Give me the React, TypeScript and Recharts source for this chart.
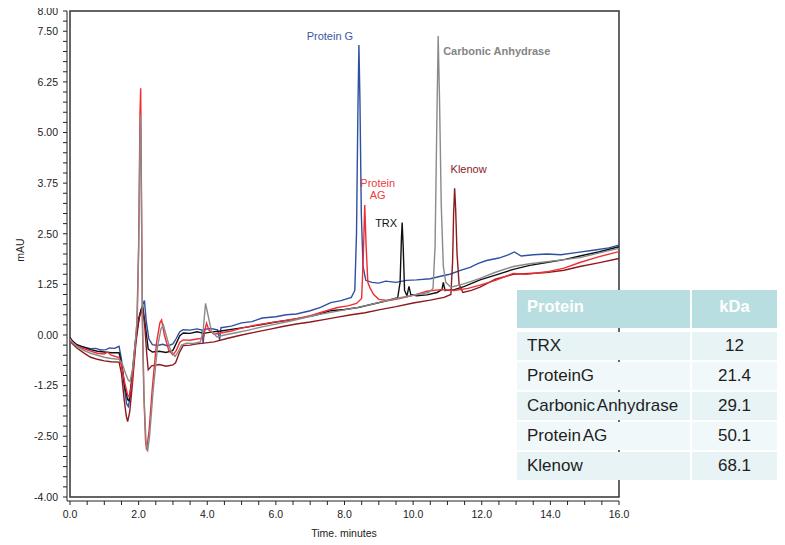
import React from 'react';
import { LineChart, Line, XAxis, YAxis, ReferenceArea, ReferenceDot } from 'recharts';

const FONT = '"Liberation Sans", Arial, Helvetica, sans-serif';

// chromatogram traces: [time (min), absorbance (mAU)]
const proteinG: [number, number][] = [
  [0, -0.05], [0.05, -0.13], [0.15, -0.22], [0.3, -0.28], [0.45, -0.31], [0.6, -0.34], [0.75, -0.33], [0.9, -0.37],
  [1.05, -0.36], [1.15, -0.32], [1.3, -0.33], [1.43, -0.28], [1.5, -0.6], [1.58, -1.25], [1.65, -1.7], [1.7, -1.77],
  [1.76, -1.5], [1.85, -0.7], [1.95, 0.1], [2.05, 0.55], [2.12, 0.75], [2.17, 0.85], [2.22, 0.35], [2.3, -0.1],
  [2.4, -0.24], [2.55, -0.26], [2.7, -0.23], [2.85, -0.27], [3.0, -0.22], [3.1, -0.08], [3.2, 0.08], [3.3, 0.13],
  [3.5, 0.12], [3.7, 0.15], [3.85, 0.12], [3.88, -0.2], [3.92, 0.14], [4.1, 0.16], [4.3, 0.13], [4.36, -0.12],
  [4.4, 0.18], [4.7, 0.22], [5.0, 0.3], [5.3, 0.33], [5.6, 0.42], [6.0, 0.45], [6.3, 0.5], [6.6, 0.52], [7.0, 0.6],
  [7.3, 0.68], [7.6, 0.8], [7.9, 0.85], [8.2, 0.93], [8.3, 1.1], [8.35, 2.5], [8.39, 5.5], [8.42, 7.16], [8.45, 5.8],
  [8.49, 3.0], [8.54, 1.7], [8.62, 1.35], [8.8, 1.3], [9.0, 1.28], [9.2, 1.33], [9.5, 1.3], [9.8, 1.35], [10.1, 1.36],
  [10.5, 1.39], [10.8, 1.45], [11.07, 1.5], [11.4, 1.6], [11.66, 1.67], [11.9, 1.77], [12.14, 1.84], [12.5, 1.9],
  [12.75, 1.97], [12.95, 2.05], [13.15, 1.95], [13.5, 1.98], [13.9, 2.0], [14.3, 1.98], [14.8, 2.04], [15.3, 2.1],
  [15.7, 2.15], [16.0, 2.22],
];

const proteinAG: [number, number][] = [
  [0, -0.08], [0.05, -0.16], [0.2, -0.27], [0.4, -0.34], [0.6, -0.4], [0.8, -0.45], [1.0, -0.47], [1.1, -0.42],
  [1.2, -0.5], [1.43, -0.56], [1.5, -0.75], [1.6, -1.2], [1.68, -1.48], [1.73, -1.52], [1.8, -1.2], [1.88, -0.5],
  [1.95, 0.3], [2.0, 2.2], [2.04, 5.5], [2.06, 6.09], [2.08, 3.8], [2.11, 0.3], [2.15, -1.4], [2.2, -2.6],
  [2.23, -2.84], [2.3, -2.4], [2.4, -1.3], [2.52, -0.2], [2.62, 0.3], [2.67, 0.37], [2.75, 0.0], [2.88, -0.38],
  [3.0, -0.49], [3.1, -0.38], [3.2, -0.18], [3.3, -0.12], [3.5, -0.13], [3.7, -0.1], [3.88, -0.08], [3.94, 0.15],
  [3.98, 0.29], [4.05, 0.12], [4.2, 0.02], [4.4, 0.05], [4.7, 0.1], [5.0, 0.17], [5.4, 0.24], [5.8, 0.3], [6.2, 0.35],
  [6.6, 0.4], [7.0, 0.48], [7.4, 0.58], [7.8, 0.68], [8.1, 0.72], [8.35, 0.78], [8.5, 0.9], [8.55, 2.0], [8.59, 3.21],
  [8.63, 2.2], [8.68, 1.3], [8.75, 1.15], [8.85, 1.0], [9.0, 0.88], [9.3, 0.85], [9.6, 0.9], [10.0, 0.98],
  [10.4, 1.08], [10.8, 1.12], [11.2, 1.1], [11.6, 1.15], [11.95, 1.23], [12.4, 1.35], [12.92, 1.52], [13.3, 1.5],
  [13.9, 1.56], [14.4, 1.65], [14.86, 1.79], [15.4, 1.93], [16.0, 2.06],
];

const trx: [number, number][] = [
  [0, -0.06], [0.05, -0.13], [0.2, -0.24], [0.4, -0.3], [0.6, -0.36], [0.8, -0.4], [1.0, -0.42], [1.2, -0.44],
  [1.43, -0.44], [1.5, -0.7], [1.6, -1.3], [1.68, -1.6], [1.72, -1.62], [1.8, -1.1], [1.9, -0.2], [2.0, 0.4],
  [2.08, 0.65], [2.12, 0.7], [2.2, 0.2], [2.28, -0.35], [2.4, -0.42], [2.6, -0.4], [2.8, -0.43], [3.0, -0.38],
  [3.1, -0.2], [3.2, -0.02], [3.3, 0.05], [3.5, 0.04], [3.7, 0.08], [3.9, 0.04], [4.1, 0.07], [4.4, 0.1], [4.8, 0.15],
  [5.2, 0.2], [5.6, 0.26], [6.0, 0.32], [6.4, 0.37], [6.8, 0.43], [7.2, 0.5], [7.6, 0.6], [8.0, 0.63], [8.4, 0.68],
  [8.8, 0.76], [9.2, 0.84], [9.55, 0.92], [9.62, 1.3], [9.66, 2.4], [9.68, 2.78], [9.71, 2.2], [9.75, 1.1],
  [9.82, 0.97], [9.88, 1.2], [9.93, 1.0], [10.1, 0.97], [10.4, 0.99], [10.7, 1.05], [10.84, 1.12], [10.88, 1.3],
  [10.93, 1.1], [11.2, 1.12], [11.5, 1.2], [11.95, 1.36], [12.4, 1.48], [12.92, 1.62], [13.4, 1.72], [13.89, 1.79],
  [14.4, 1.86], [14.86, 1.95], [15.4, 2.05], [16.0, 2.18],
];

const carbonicAnhydrase: [number, number][] = [
  [0, -0.1], [0.05, -0.17], [0.2, -0.28], [0.4, -0.38], [0.6, -0.45], [0.8, -0.5], [1.0, -0.55], [1.2, -0.58],
  [1.43, -0.6], [1.52, -0.7], [1.62, -0.95], [1.7, -1.12], [1.75, -1.15], [1.82, -0.85], [1.9, -0.2], [1.96, 0.4],
  [2.0, 2.0], [2.04, 4.8], [2.06, 5.43], [2.08, 3.5], [2.11, 0.5], [2.16, -1.6], [2.22, -2.7], [2.26, -2.88],
  [2.32, -2.5], [2.42, -1.4], [2.55, -0.3], [2.65, 0.15], [2.72, 0.25], [2.8, 0.0], [2.92, -0.35], [3.06, -0.53],
  [3.15, -0.42], [3.25, -0.25], [3.4, -0.2], [3.6, -0.21], [3.8, -0.17], [3.88, 0.1], [3.95, 0.78], [4.02, 0.5],
  [4.12, 0.1], [4.28, -0.05], [4.5, 0.0], [4.8, 0.05], [5.2, 0.12], [5.6, 0.2], [6.0, 0.27], [6.4, 0.34], [6.8, 0.42],
  [7.2, 0.5], [7.6, 0.56], [8.0, 0.62], [8.5, 0.7], [9.0, 0.8], [9.5, 0.9], [10.0, 0.98], [10.45, 1.05], [10.58, 1.15],
  [10.64, 2.2], [10.69, 5.2], [10.73, 7.38], [10.77, 5.8], [10.82, 3.2], [10.88, 1.7], [10.95, 1.3], [11.1, 1.18],
  [11.5, 1.27], [11.95, 1.4], [12.4, 1.55], [12.92, 1.69], [13.4, 1.76], [13.89, 1.81], [14.4, 1.86], [14.86, 1.91],
  [15.4, 2.02], [16.0, 2.14],
];

const klenow: [number, number][] = [
  [0, -0.1], [0.05, -0.2], [0.2, -0.32], [0.4, -0.44], [0.6, -0.55], [0.8, -0.6], [1.0, -0.64], [1.2, -0.66],
  [1.43, -0.67], [1.5, -0.95], [1.58, -1.6], [1.64, -2.0], [1.68, -2.14], [1.74, -1.9], [1.82, -1.2], [1.92, -0.2],
  [2.02, 0.45], [2.12, 0.63], [2.18, 0.2], [2.24, -0.5], [2.28, -0.86], [2.38, -0.76], [2.6, -0.73], [2.8, -0.77],
  [3.0, -0.74], [3.08, -0.68], [3.18, -0.45], [3.3, -0.26], [3.5, -0.25], [3.7, -0.22], [3.9, -0.2], [4.2, -0.17],
  [4.6, -0.08], [5.0, 0.0], [5.4, 0.07], [5.8, 0.14], [6.2, 0.21], [6.6, 0.27], [7.0, 0.32], [7.4, 0.38], [7.8, 0.44],
  [8.2, 0.5], [8.6, 0.55], [9.0, 0.62], [9.5, 0.7], [10.0, 0.79], [10.5, 0.86], [10.9, 0.93], [11.1, 1.0],
  [11.15, 1.8], [11.18, 3.0], [11.21, 3.62], [11.24, 3.1], [11.28, 2.0], [11.34, 1.25], [11.45, 1.05], [11.7, 1.1],
  [11.95, 1.18], [12.4, 1.38], [12.92, 1.5], [13.4, 1.52], [13.89, 1.54], [14.4, 1.6], [14.86, 1.69], [15.4, 1.78],
  [16.0, 1.89],
];

const xTicks = [0, 0.5, 1, 1.5, 2, 2.5, 3, 3.5, 4, 4.5, 5, 5.5, 6, 6.5, 7, 7.5, 8, 8.5, 9, 9.5, 10, 10.5, 11, 11.5,
  12, 12.5, 13, 13.5, 14, 14.5, 15, 15.5, 16];
const xLabelled = [0, 2, 4, 6, 8, 10, 12, 14, 16];

const yTicks = [-4, -3.75, -3.5, -3.25, -3, -2.75, -2.5, -2.25, -2, -1.75, -1.5, -1.25, -1, -0.75, -0.5, -0.25, 0,
  0.25, 0.5, 0.75, 1, 1.25, 1.5, 1.75, 2, 2.25, 2.5, 2.75, 3, 3.25, 3.5, 3.75, 4, 4.25, 4.5, 4.75, 5, 5.25, 5.5, 5.75,
  6, 6.25, 6.5, 6.75, 7, 7.25, 7.5, 7.75, 8];
const yLabelled = [-4, -2.5, -1.25, 0, 1.25, 2.5, 3.75, 5, 6.25, 7.5, 8];

const proteinNames = ['TRX', 'ProteinG', 'Carbonic Anhydrase', 'Protein AG', 'Klenow'];
const proteinKDa = ['12', '21.4', '29.1', '50.1', '68.1'];

const toPoints = (arr: [number, number][]) => arr.map(([t, v]) => ({ t, v }));

const series = [
  { name: 'Protein G', data: proteinG, color: '#2f4fa2' },
  { name: 'TRX', data: trx, color: '#111111' },
  { name: 'Klenow', data: klenow, color: '#8b1a1e' },
  { name: 'Protein AG', data: proteinAG, color: '#ef2d33' },
  { name: 'Carbonic Anhydrase', data: carbonicAnhydrase, color: '#8a8a8a' },
];

// peak annotations, anchored at the apex of each peak
const peaks = [
  { lines: ['Protein G'], t: 8.42, v: 7.16, dx: -29, dy: -9, anchor: 'middle', color: '#3b56a8', bold: false },
  { lines: ['Carbonic Anhydrase'], t: 10.73, v: 7.38, dx: 5, dy: 15, anchor: 'start', color: '#858585', bold: true },
  { lines: ['Klenow'], t: 11.21, v: 3.62, dx: 14, dy: -19, anchor: 'middle', color: '#8b1a1e', bold: false },
  { lines: ['Protein', 'AG'], t: 8.59, v: 3.21, dx: 13, dy: -22, anchor: 'middle', color: '#ef3a3f', bold: false },
  { lines: ['TRX'], t: 9.68, v: 2.78, dx: -5, dy: 1, anchor: 'end', color: '#111111', bold: false },
];

const XTick = ({ x, y, payload }: any) =>
  xLabelled.includes(payload.value) ? (
    <text x={x} y={y} dy="0.71em" textAnchor="middle" fontSize={10.5} fontFamily={FONT} fill="#222">
      {payload.value.toFixed(1)}
    </text>
  ) : null;

const YTick = ({ x, y, payload }: any) =>
  yLabelled.includes(payload.value) ? (
    <text x={x} y={y} dy="0.36em" textAnchor="end" fontSize={10.5} fontFamily={FONT} fill="#222">
      {payload.value.toFixed(2)}
    </text>
  ) : null;

const cellBase: React.CSSProperties = {
  boxSizing: 'border-box',
  display: 'flex',
  alignItems: 'center',
  fontSize: 17,
  color: '#1e1e1e',
  wordSpacing: -2,
};

function ProteinTable() {
  return (
    <div style={{ position: 'absolute', left: 517, top: 290, width: 260, fontFamily: FONT }}>
      <div style={{ display: 'flex', height: 38, marginBottom: 4 }}>
        <div style={{ ...cellBase, width: 173, background: '#b8dee2', color: '#fff', fontWeight: 'bold', fontSize: 16.5, paddingLeft: 10, paddingBottom: 6 }}>
          Protein
        </div>
        <div style={{ width: 2 }} />
        <div style={{ ...cellBase, width: 85, background: '#b8dee2', color: '#fff', fontWeight: 'bold', fontSize: 16.5, justifyContent: 'center', paddingBottom: 6 }}>
          kDa
        </div>
      </div>
      {proteinNames.map((name, i) => {
        const bg = i % 2 === 0 ? '#e7f3f5' : '#f1f8f9';
        return (
          <div key={name} style={{ display: 'flex', height: 28, marginBottom: 2 }}>
            <div style={{ ...cellBase, width: 173, background: bg, paddingLeft: 10 }}>{name}</div>
            <div style={{ width: 2 }} />
            <div style={{ ...cellBase, width: 85, background: bg, justifyContent: 'center' }}>{proteinKDa[i]}</div>
          </div>
        );
      })}
    </div>
  );
}

export default function App() {
  return (
    <div style={{ position: 'relative', width: 785, height: 545, margin: '-8px 0 -8px -8px', fontFamily: FONT }}>
      <LineChart width={785} height={545} margin={{ top: 11, right: 166, bottom: 0, left: 0 }}>
        <XAxis
          dataKey="t"
          type="number"
          domain={[0, 16]}
          ticks={xTicks}
          interval={0}
          allowDataOverflow
          padding={{ left: 3, right: 0 }}
          height={44}
          tickSize={4}
          tickMargin={6}
          stroke="#222"
          tick={<XTick />}
          label={{
            content: () => (
              <text x={344} y={533} dy="0.36em" textAnchor="middle" fontSize={10.5} fontFamily={FONT} fill="#222">
                Time, minutes
              </text>
            ),
          }}
        />
        <YAxis
          dataKey="v"
          type="number"
          domain={[-4, 8]}
          ticks={yTicks}
          interval={0}
          allowDataOverflow
          padding={{ top: 0, bottom: 4 }}
          width={67}
          tickSize={4}
          tickMargin={5}
          stroke="#222"
          tick={<YTick />}
          label={{
            content: () => (
              <text
                x={20.5}
                y={250}
                transform="rotate(-90 20.5 250)"
                dy="0.36em"
                textAnchor="middle"
                fontSize={10.5}
                fontFamily={FONT}
                fill="#222"
              >
                mAU
              </text>
            ),
          }}
        />
        <ReferenceArea x1={0} x2={16} y1={-4} y2={8} fill="none" stroke="#333" strokeWidth={1.5} />
        {series.map((s) => (
          <Line
            key={s.name}
            data={toPoints(s.data)}
            dataKey="v"
            type="linear"
            stroke={s.color}
            strokeWidth={1.4}
            dot={false}
            activeDot={false}
            isAnimationActive={false}
          />
        ))}
        {peaks.map((p) => (
          <ReferenceDot
            key={p.lines.join(' ')}
            x={p.t}
            y={p.v}
            r={1}
            fill="none"
            stroke="none"
            label={(props: any) => {
              const vb = props.viewBox || {};
              const cx = (vb.x ?? 0) + (vb.width ?? 0) / 2;
              const cy = (vb.y ?? 0) + (vb.height ?? 0) / 2;
              return (
                <text
                  x={cx + p.dx}
                  y={cy + p.dy}
                  textAnchor={p.anchor as any}
                  fontSize={11}
                  fontWeight={p.bold ? 'bold' : 'normal'}
                  fontFamily={FONT}
                  fill={p.color}
                >
                  {p.lines.map((ln, i) => (
                    <tspan key={ln} x={cx + p.dx} dy={i === 0 ? '0.36em' : '1.1em'}>
                      {ln}
                    </tspan>
                  ))}
                </text>
              );
            }}
          />
        ))}
      </LineChart>
      <ProteinTable />
    </div>
  );
}
